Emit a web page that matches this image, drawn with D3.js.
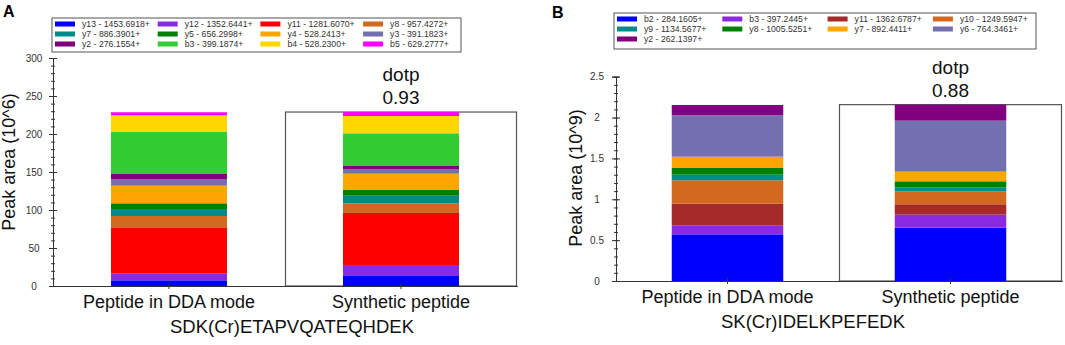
<!DOCTYPE html>
<html>
<head>
<meta charset="utf-8">
<script src="https://cdn.jsdelivr.net/npm/d3@7"></script>
<style>
  body { margin: 0; background: #fff; }
  svg { font-family: "Liberation Sans", Arial, sans-serif; }
</style>
</head>
<body>
<div id="wrapper"></div>
<script>
// categories on the x axis
const categories = ["Peptide in DDA mode", "Synthetic peptide"];

// panel A - SDK(Cr)ETAPVQATEQHDEK, peak area in 10^6
const ionsA = ["y13 - 1453.6918+", "y12 - 1352.6441+", "y11 - 1281.6070+", "y8 - 957.4272+",
    "y7 - 886.3901+", "y5 - 656.2998+", "y4 - 528.2413+", "y3 - 391.1823+",
    "y2 - 276.1554+", "b3 - 399.1874+", "b4 - 528.2300+", "b5 - 629.2777+"];
const colorsA = ["#0000ff", "#8a2be2", "#ff0000", "#d2691e", "#008b8b", "#008000",
    "#ffa500", "#7470b0", "#800080", "#32cd32", "#ffd700", "#ff00ff"];
const ddaA = [7.5, 9.2, 60.5, 14.9, 9.2, 7.5, 23.2, 8.8, 6.6, 55.6, 21.6, 4.0];
const synthA = [13.2, 14.4, 68.5, 12.7, 10.0, 7.5, 21.5, 5.8, 4.3, 43.0, 22.8, 5.2];

// panel B - SK(Cr)IDELKPEFEDK, peak area in 10^9
const ionsB = ["b2 - 284.1605+", "b3 - 397.2445+", "y11 - 1362.6787+", "y10 - 1249.5947+",
    "y9 - 1134.5677+", "y8 - 1005.5251+", "y7 - 892.4411+", "y6 - 764.3461+",
    "y2 - 262.1397+"];
const colorsB = ["#0000ff", "#8a2be2", "#a52a2a", "#d2691e", "#008b8b", "#008000",
    "#ffa500", "#7470b0", "#800080"];
const ddaB = [0.571, 0.106, 0.269, 0.286, 0.069, 0.082, 0.138, 0.507, 0.126];
const synthB = [0.652, 0.160, 0.127, 0.159, 0.049, 0.073, 0.118, 0.624, 0.196];

const peptides = ["SDK(Cr)ETAPVQATEQHDEK", "SK(Cr)IDELKPEFEDK"];
const dotp = [0.93, 0.88];
const yLabels = ["Peak area (10^6)", "Peak area (10^9)"];
const yMax = [300, 2.5];
const yMajor = [50, 0.5];
const yMinor = [10, 0.1];

const svg = d3.select("#wrapper")
    .append("svg")
    .attr("width", 1065)
    .attr("height", 345);

function drawPanel(p) {
    const g = svg.append("g");

    const rows = [p.dda, p.synth].map((vals, i) => {
        const r = { cat: categories[i] };
        p.ions.forEach((k, j) => r[k] = vals[j]);
        return r;
    });
    const stacked = d3.stack().keys(p.ions)(rows);

    const x = d3.scaleBand().domain(categories).range([p.x0, p.x1]).padding(0);
    const y = d3.scaleLinear().domain([0, p.yMax]).range([p.yZero, p.yTop]);
    const color = d3.scaleOrdinal().domain(p.ions).range(p.colors);
    const bw = x.bandwidth() / 2;

    // box round the synthetic peptide
    const synthTotal = d3.sum(p.synth);
    g.append("rect")
        .attr("x", x(categories[1]) + 0.5)
        .attr("y", y(synthTotal))
        .attr("width", x.bandwidth() - 1)
        .attr("height", y(0) - y(synthTotal))
        .attr("fill", "none")
        .attr("stroke", "#555")
        .attr("stroke-width", 1.2);

    // stacked bars
    g.append("g")
        .selectAll("g")
        .data(stacked)
        .join("g")
        .attr("fill", d => color(d.key))
        .selectAll("rect")
        .data(d => d)
        .join("rect")
        .attr("x", d => x(d.data.cat) + bw / 2)
        .attr("width", bw)
        .attr("y", d => y(d[1]))
        .attr("height", d => y(d[0]) - y(d[1]));

    // y axis: major + minor ticks crossing the line
    const majors = d3.range(0, p.yMax + p.major / 2, p.major);
    const minors = d3.range(0, p.yMax + p.minor / 2, p.minor);
    const yAxis = g.append("g").attr("transform", `translate(${p.x0},0)`);
    yAxis.append("g").call(d3.axisLeft(y).tickValues(minors).tickSize(2).tickFormat(""));
    yAxis.append("g").call(d3.axisRight(y).tickValues(minors).tickSize(2).tickFormat(""));
    yAxis.append("g").call(d3.axisRight(y).tickValues(majors).tickSize(4).tickFormat(""));
    const yMaj = yAxis.append("g").call(d3.axisLeft(y).tickValues(majors).tickSize(4).tickFormat(d3.format("~g")));
    yMaj.selectAll("text")
        .attr("x", -19)
        .attr("text-anchor", "middle")
        .attr("font-size", "10px")
        .attr("fill", "#333");
    yAxis.selectAll("path, line").attr("stroke", "#333");

    // x axis
    const xAxis = g.append("g").attr("transform", `translate(0,${p.yZero})`);
    xAxis.append("g").call(d3.axisTop(x).tickSize(3).tickSizeOuter(0).tickFormat(""));
    const xBot = xAxis.append("g").call(d3.axisBottom(x).tickSize(3).tickSizeOuter(0));
    xBot.selectAll("text")
        .attr("y", p.catDy)
        .attr("dy", 0)
        .attr("font-size", "18px")
        .attr("fill", "#111");
    xAxis.selectAll("path, line").attr("stroke", "#333");

    // axis titles
    g.append("text")
        .attr("transform", `translate(${p.labelX},${p.labelY}) rotate(-90)`)
        .attr("text-anchor", "middle")
        .attr("font-size", "18px")
        .attr("fill", "#111")
        .text(p.yLabel);

    g.append("text")
        .attr("x", p.titleX)
        .attr("y", p.yZero + p.titleDy)
        .attr("text-anchor", "middle")
        .attr("font-size", "18.5px")
        .attr("fill", "#111")
        .text(p.title);

    // dot product over synthetic bar
    const cx = x(categories[1]) + x.bandwidth() / 2;
    g.append("text")
        .attr("x", cx)
        .attr("y", y(synthTotal) - 31)
        .attr("text-anchor", "middle")
        .attr("font-size", "19px")
        .attr("fill", "#111")
        .text("dotp");
    g.append("text")
        .attr("x", cx)
        .attr("y", y(synthTotal) - 8)
        .attr("text-anchor", "middle")
        .attr("font-size", "19px")
        .attr("fill", "#111")
        .text(d3.format(".2f")(p.dotp));

    // panel letter
    g.append("text")
        .attr("x", p.letterX)
        .attr("y", p.letterY)
        .attr("font-size", "16px")
        .attr("font-weight", "bold")
        .text(p.letter);

    // legend
    const lg = p.legend;
    const leg = g.append("g");
    leg.append("rect")
        .attr("x", lg.x)
        .attr("y", lg.y)
        .attr("width", lg.w)
        .attr("height", lg.h)
        .attr("fill", "#fff")
        .attr("stroke", "#555");
    const items = leg.selectAll("g.item")
        .data(p.ions)
        .join("g")
        .attr("class", "item")
        .attr("transform", (d, i) => `translate(${lg.x + 3 + (i % 4) * lg.colStep},${lg.y + 6 + Math.floor(i / 4) * 10})`);
    items.append("rect")
        .attr("x", 0)
        .attr("y", -2.5)
        .attr("width", 20)
        .attr("height", 5)
        .attr("fill", d => color(d));
    items.append("text")
        .attr("x", 27)
        .attr("y", 3)
        .attr("font-size", "8.7px")
        .attr("fill", "#333")
        .text(d => d);
}

drawPanel({
    ions: ionsA, colors: colorsA, dda: ddaA, synth: synthA,
    x0: 53, x1: 517, yTop: 58, yZero: 286, yMax: yMax[0], major: yMajor[0], minor: yMinor[0],
    yLabel: yLabels[0], labelX: 15, labelY: 162,
    title: peptides[0], titleX: 292, titleDy: 47, catDy: 22, dotp: dotp[0],
    letter: "A", letterX: 3, letterY: 17,
    legend: { x: 52, y: 18, w: 409, h: 34, colStep: 102.7 }
});

drawPanel({
    ions: ionsB, colors: colorsB, dda: ddaB, synth: synthB,
    x0: 616, x1: 1062, yTop: 76.7, yZero: 281, yMax: yMax[1], major: yMajor[1], minor: yMinor[1],
    yLabel: yLabels[1], labelX: 582, labelY: 178,
    title: peptides[1], titleX: 813, titleDy: 47, catDy: 22, dotp: dotp[1],
    letter: "B", letterX: 552, letterY: 18,
    legend: { x: 614, y: 13, w: 422, h: 36, colStep: 105.3 }
});
</script>
</body>
</html>
